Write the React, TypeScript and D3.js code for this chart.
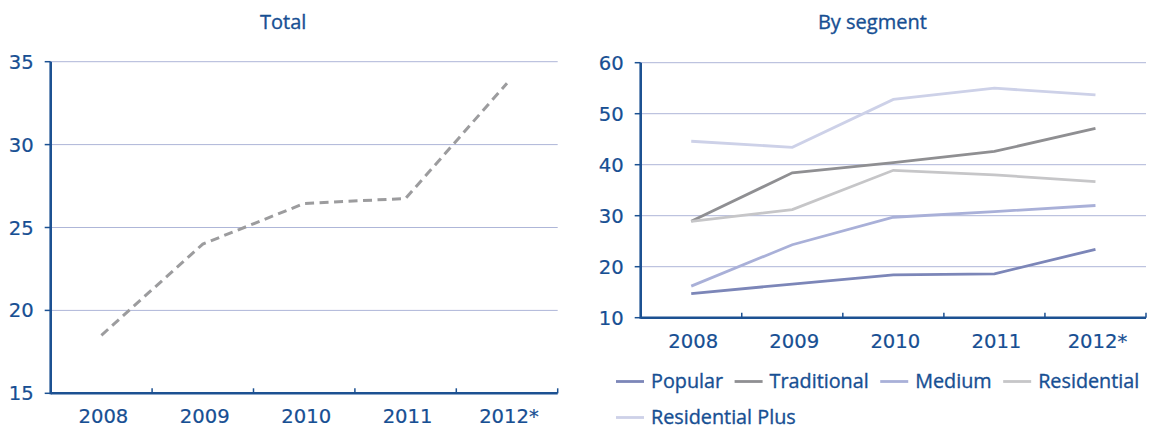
import React from "react";
import * as d3 from "d3";

const years = ["2008", "2009", "2010", "2011", "2012*"];
const totalValues = [18.5, 24.0, 26.45, 26.75, 33.7];
const totalTicks = [15, 20, 25, 30, 35];
const segmentTicks = [10, 20, 30, 40, 50, 60];

const segmentNames = ["Popular", "Traditional", "Medium", "Residential", "Residential Plus"];
const popular = [14.7, 16.6, 18.4, 18.6, 23.4];
const traditional = [28.9, 38.4, 40.4, 42.6, 47.1];
const medium = [16.2, 24.3, 29.7, 30.8, 32.0];
const residential = [28.9, 31.2, 38.9, 38.0, 36.7];
const residentialPlus = [44.6, 43.4, 52.8, 55.0, 53.7];
const segmentValues = [popular, traditional, medium, residential, residentialPlus];
const segmentColors = ["#7c86b8", "#8f8f92", "#a9b0d8", "#c6c6c8", "#cdd1e8"];

const TEXT = "#174f93";
const AXIS = "#1c5192";
const GRID = "#aeb6d8";
const NUM_FONT = "'DejaVu Sans', sans-serif";
const TXT_FONT = "'Open Sans', sans-serif";
const NUM_STROKE = 0.2;
const TEXT_STROKE = 0.35;

function measure(text: string, font: string): number {
  const c = document.createElement("canvas");
  const ctx = c.getContext("2d");
  if (!ctx) return text.length * 10;
  ctx.font = font;
  return ctx.measureText(text).width;
}

type PanelProps = {
  title: string;
  x0: number;
  x1: number;
  y0: number;
  y1: number;
  domain: [number, number];
  ticks: number[];
  children: (x: d3.ScaleBand<string>, y: d3.ScaleLinear<number, number>) => React.ReactNode;
};

function Panel({ title, x0, x1, y0, y1, domain, ticks, children }: PanelProps) {
  const x = d3.scaleBand<string>().domain(years).range([x0, x1]);
  const y = d3.scaleLinear().domain(domain).range([y1, y0]);
  const bw = x.bandwidth();
  const numStyle = { fontFamily: NUM_FONT, fontSize: 19.6 };
  return (
    <g>
      <text x={(x0 - 42 + x1) / 2} y={28.5} textAnchor="middle" fill={TEXT}
        stroke={TEXT} strokeWidth={TEXT_STROKE}
        style={{ fontFamily: TXT_FONT, fontSize: 20 }}>{title}</text>
      {ticks.map((t) => (
        <g key={t}>
          {t !== domain[0] && (
            <line x1={x0} x2={x1} y1={y(t)} y2={y(t)} stroke={GRID} strokeWidth={1} />
          )}
          <line x1={x0 - 6} x2={x0} y1={y(t)} y2={y(t)} stroke={AXIS} strokeWidth={1.5} />
          <text x={x0 - 17} y={y(t)} dy="0.36em" textAnchor="end" fill={TEXT}
            stroke={TEXT} strokeWidth={NUM_STROKE} style={numStyle}>{t}</text>
        </g>
      ))}
      {children(x, y)}
      <line x1={x0} x2={x0} y1={y0} y2={y1 + 1} stroke={AXIS} strokeWidth={2.6} />
      <line x1={x0} x2={x1} y1={y1} y2={y1} stroke={AXIS} strokeWidth={2.4} />
      {years.map((yr) => {
        const bx = (x(yr) as number) + bw;
        return (
          <g key={yr}>
            <line x1={bx} x2={bx} y1={y1} y2={y1 - 5} stroke={AXIS} strokeWidth={1.5} />
            <text x={(x(yr) as number) + bw / 2 + 2} y={y1 + 30} textAnchor="middle" fill={TEXT}
              stroke={TEXT} strokeWidth={NUM_STROKE} style={numStyle}>{yr}</text>
          </g>
        );
      })}
    </g>
  );
}

export default function App() {
  const legendFont = `19.8px ${TXT_FONT}`;
  const rows: number[][] = [[0, 1, 2, 3], [4]];
  const rowY = [381.5, 417.5];
  const legendItems: { i: number; sx: number; sy: number }[] = [];
  rows.forEach((r, ri) => {
    let cx = 616;
    r.forEach((i) => {
      legendItems.push({ i, sx: cx, sy: rowY[ri] });
      cx += 35 + measure(segmentNames[i], legendFont) + 11.5;
    });
  });

  return (
    <svg width={1149} height={432} style={{ position: "absolute", left: 0, top: 0, background: "#fff" }}>
      <Panel title="Total" x0={50.7} x1={557.7} y0={61.7} y1={393.3} domain={[15, 35]} ticks={totalTicks}>
        {(x, y) => {
          const line = d3.line<number>()
            .x((_, i) => (x(years[i]) as number) + x.bandwidth() / 2)
            .y((v) => y(v));
          return (
            <path d={line(totalValues) || ""} fill="none" stroke="#9c9c9e" strokeWidth={3}
              strokeDasharray="9,5.5" />
          );
        }}
      </Panel>
      <Panel title="By segment" x0={640.7} x1={1146} y0={62.7} y1={317.7} domain={[10, 60]} ticks={segmentTicks}>
        {(x, y) => {
          const line = d3.line<number>()
            .x((_, i) => (x(years[i]) as number) + x.bandwidth() / 2)
            .y((v) => y(v));
          return segmentValues.map((vals, si) => (
            <path key={si} d={line(vals) || ""} fill="none" stroke={segmentColors[si]} strokeWidth={2.8} />
          ));
        }}
      </Panel>
      {legendItems.map(({ i, sx, sy }) => (
        <g key={i}>
          <line x1={sx} x2={sx + 28} y1={sy} y2={sy} stroke={segmentColors[i]} strokeWidth={2.8} />
          <text x={sx + 35} y={sy + 6.5} fill={TEXT} stroke={TEXT} strokeWidth={TEXT_STROKE}
            style={{ fontFamily: TXT_FONT, fontSize: 19.8 }}>
            {segmentNames[i]}
          </text>
        </g>
      ))}
    </svg>
  );
}
